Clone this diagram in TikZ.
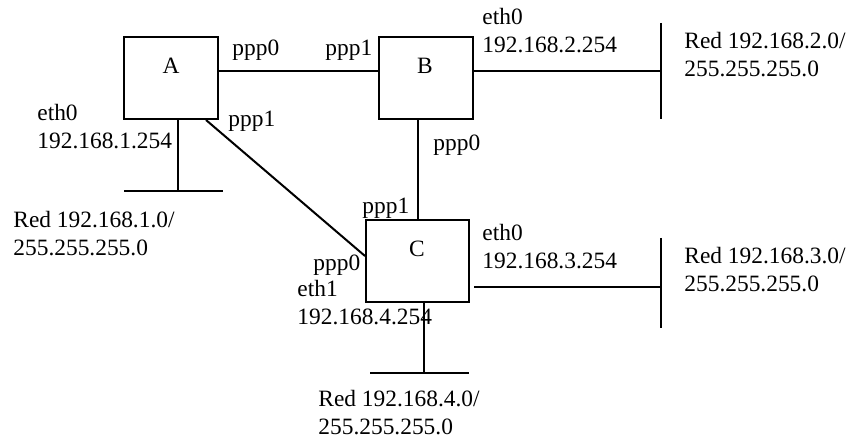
\documentclass[tikz,border=0pt]{standalone}
\usepackage{fontspec}
\setmainfont{Liberation Serif}
\usetikzlibrary{calc,positioning}

\begin{document}
\begin{tikzpicture}[
  x=0.5pt, y=-0.5pt,
  every node/.style={font=\fontsize{11.7}{14}\selectfont, inner sep=0pt},
  router/.style={draw, line width=1pt, minimum width=47pt, minimum height=41pt},
  wire/.style={line width=1pt},
  txt/.style={anchor=west, align=left},
]

%% ── Frame (pixel units, y downwards) ─────────────────────────────────────────
\useasboundingbox (0,0) rectangle (860,442);

%% ── Routers ──────────────────────────────────────────────────────────────────
\node[router] (A) at (171,78) {};
\node[router] (B) at (426,78) {};
\node[router, minimum width=51.5pt] (C) at (417.5,261) {};

\node (Aname) at (171,66) {A};
\node (Bname) at (425,66) {B};
\node (Cname) at (417,249) {C};

%% ── LAN bars ─────────────────────────────────────────────────────────────────
\coordinate (lan1) at (178,191);
\coordinate (lan2) at (661,71);
\coordinate (lan3) at (661,287);
\coordinate (lan4) at (424,373);

\draw[wire] ($(lan1)+(-54,0)$) -- ($(lan1)+(45,0)$);
\draw[wire] ($(lan2)+(0,-48)$) -- ($(lan2)+(0,48)$);
\draw[wire] ($(lan3)+(0,-49)$) -- ($(lan3)+(0,41)$);
\draw[wire] ($(lan4)+(-54,0)$) -- ($(lan4)+(45,0)$);

%% ── Links ────────────────────────────────────────────────────────────────────
\draw[wire] ($(A.east)+(0,-7)$) -- ($(B.west)+(0,-7)$);
\draw[wire] ($(A.south east)+(-13,0)$) -- ($(C.west)+(0,-5)$);
\draw[wire] (C.north) -- (C.north |- B.south);
\draw[wire] ($(A.south)+(7,0)$) -- (lan1);
\draw[wire] ($(B.east)+(0,-7)$) -- (lan2);
\draw[wire] ($(C.east)+(4,26)$) -- (lan3);
\draw[wire] ($(C.south)+(6.5,-2)$) -- (lan4);

%% ── Interface labels ─────────────────────────────────────────────────────────
\node[txt] (Appp0) at (232,50) {ppp0};
\node[txt] (Appp1) at (228,121) {ppp1};
\node[txt] (Aeth0) at (37,127) {eth0\\192.168.1.254};

\node[txt] (Bppp1) at (325,50) {ppp1};
\node[txt] (Bppp0) at (433,145) {ppp0};
\node[txt] (Beth0) at (482,31) {eth0\\192.168.2.254};

\node[txt] (Cppp1) at (362,208) {ppp1};
\node[txt] (Cppp0) at (313,265) {ppp0};
\node[txt] (Ceth0) at (482,247) {eth0\\192.168.3.254};
\node[txt] (Ceth1) at (297,303) {eth1\\192.168.4.254};

%% ── Networks ─────────────────────────────────────────────────────────────────
\node[txt] (net1) at (13,234) {Red 192.168.1.0/\\255.255.255.0};
\node[txt] (net2) at (684,55) {Red 192.168.2.0/\\255.255.255.0};
\node[txt] (net3) at (684,270) {Red 192.168.3.0/\\255.255.255.0};
\node[txt] (net4) at (318,413) {Red 192.168.4.0/\\255.255.255.0};

\end{tikzpicture}
\end{document}
